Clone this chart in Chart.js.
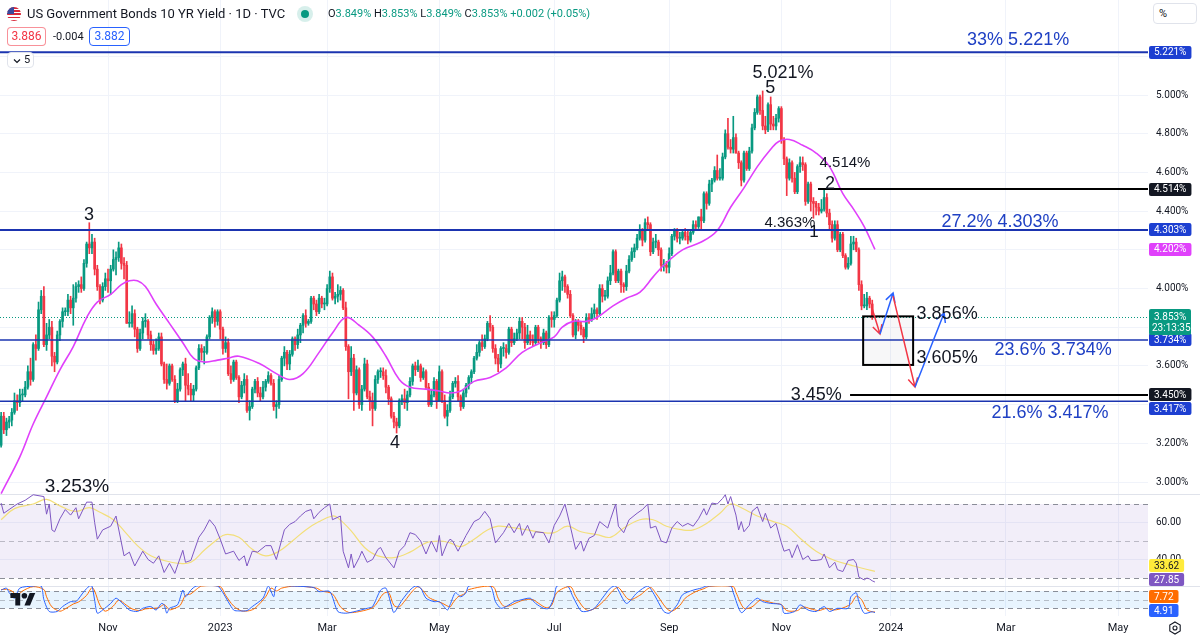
<!DOCTYPE html>
<html>
<head>
<meta charset="utf-8">
<script src="https://cdn.jsdelivr.net/npm/chart.js@4.4.1/dist/chart.umd.min.js"></script>
<style>
  body { margin: 0; background: #fff; }
  #wrap { position: relative; width: 1200px; height: 638px; overflow: hidden; font-family: Roboto, "Liberation Sans", Arial, sans-serif; color: #131722; }
  #chart { position: absolute; left: 0; top: 0; }
  .abs { position: absolute; white-space: nowrap; }
  .flag { left: 7px; top: 7px; width: 14px; height: 14px; border-radius: 50%; overflow: hidden;
          background: repeating-linear-gradient(180deg, #d8283a 0 1.6px, #fff 1.6px 3.2px); }
  .flag:before { content: ""; position: absolute; left: 0; top: 0; width: 7px; height: 7px; background: #3c4a9c; }
  .title { left: 27px; top: 6px; font-size: 13px; line-height: 16px; }
  .dot { left: 301px; top: 10px; width: 8px; height: 8px; border-radius: 50%; background: #089981; box-shadow: 0 0 0 4px rgba(8,153,129,0.16); }
  .ohlc { left: 328px; top: 7px; font-size: 11px; line-height: 14px; }
  .ohlc b { font-weight: normal; color: #089981; }
  .pill { box-sizing: border-box; height: 19px; border-radius: 4px; font-size: 12px; line-height: 17px; text-align: center; background: #fff; }
  .small { font-size: 11px; }
  .box { box-sizing: border-box; border: 1px solid #e0e3eb; border-radius: 4px; background: #fff; font-size: 11px; }
</style>
</head>
<body>
<div id="wrap">
  <canvas id="chart" width="1200" height="638"></canvas>

  <div class="abs flag"></div>
  <div class="abs title">US Government Bonds 10 YR Yield · 1D · TVC</div>
  <div class="abs dot"></div>
  <div class="abs ohlc" id="ohlc"></div>
  <div class="abs pill" style="left:7px;top:27px;width:39px;border:1px solid rgba(242,54,69,0.55);color:#f23645;">3.886</div>
  <div class="abs small" style="left:53px;top:30px;">-0.004</div>
  <div class="abs pill" style="left:89px;top:27px;width:41px;border:1px solid #2962ff;color:#2962ff;">3.882</div>
  <div class="abs box" style="left:7px;top:52px;width:27px;height:16px;">
    <svg class="abs" style="left:5px;top:5px" width="8" height="6" viewBox="0 0 8 6"><path d="M1 1.5l3 3 3-3" fill="none" stroke="#131722" stroke-width="1.2"/></svg>
    <span class="abs" style="left:16px;top:0px;line-height:14px;">5</span>
  </div>
  <div class="abs box" style="left:1153px;top:3px;width:44px;height:21px;"><span class="abs" style="left:5px;top:3px;">%</span></div>

  <svg class="abs" style="left:10px;top:593px" width="26" height="14" viewBox="0 0 36 20">
    <path d="M14 18H7V7H0V0h14v18zM28 18h-8l7.5-18h8L28 18z" fill="#131722"/><circle cx="20" cy="4" r="4" fill="#131722"/>
  </svg>
  <svg class="abs" style="left:1168px;top:621px" width="14" height="14" viewBox="0 0 14 14">
    <path d="M7 1l5.2 3v6L7 13 1.8 10V4z" fill="none" stroke="#131722" stroke-width="1.1"/>
    <circle cx="7" cy="7" r="2" fill="none" stroke="#131722" stroke-width="1.1"/>
  </svg>
</div>

<script>
// time axis: bar index of the first session of each month
const monthTicks = [42, 84, 124, 166, 209, 252, 294, 335, 378, 420];
const monthLabels = ["Nov", "2023", "Mar", "May", "Jul", "Sep", "Nov", "2024", "Mar", "May"];
const priceTicks = [3.0, 3.2, 3.4, 3.6, 3.8, 4.0, 4.2, 4.4, 4.6, 4.8, 5.0, 5.2];
const rsiTicks = [40, 60];
const rsiBands = [70, 50, 30];
const stochBands = [80, 50, 20];

// daily candles, 1 Sep 2022 .. 21 Dec 2023 (one row per month)
const opens = [
  3.13,3.26,3.19,3.34,3.27,3.31,3.32,3.36,3.42,3.41,3.45,3.45,3.49,3.57,3.53,3.71,3.69,3.89,3.96,3.71,3.76,
  3.80,3.65,3.62,3.76,3.83,3.88,3.88,3.94,3.90,3.95,4.01,4.02,4.00,4.13,4.23,4.21,4.24,4.10,4.01,3.94,4.01,
  4.05,4.04,4.10,4.15,4.16,4.21,4.13,4.12,3.82,3.82,3.87,3.79,3.69,3.77,3.83,3.83,3.76,3.71,3.68,3.69,3.75,
  3.61,3.53,3.51,3.60,3.53,3.42,3.48,3.58,3.61,3.50,3.48,3.45,3.48,3.59,3.69,3.67,3.67,3.75,3.85,3.88,3.83,
  3.88,3.79,3.69,3.72,3.56,3.53,3.62,3.54,3.44,3.50,3.53,3.37,3.39,3.48,3.52,3.46,3.44,3.49,3.52,3.55,
  3.51,3.39,3.40,3.53,3.64,3.67,3.61,3.66,3.74,3.71,3.76,3.81,3.86,3.82,3.83,3.95,3.92,3.88,3.95,3.92,
  3.92,4.00,4.06,3.95,3.96,3.97,3.99,3.90,3.70,3.57,3.64,3.46,3.58,3.40,3.48,3.61,3.44,3.42,3.38,3.53,3.57,3.57,3.55,
  3.49,3.43,3.34,3.31,3.29,3.42,3.43,3.41,3.45,3.52,3.60,3.58,3.60,3.54,3.57,3.49,3.40,3.45,3.52,
  3.42,3.57,3.42,3.34,3.37,3.44,3.51,3.52,3.44,3.39,3.46,3.50,3.54,3.57,3.64,3.67,3.72,3.70,3.74,3.82,3.80,3.69,
  3.64,3.61,3.69,3.69,3.67,3.79,3.72,3.74,3.77,3.83,3.80,3.72,3.76,3.73,3.72,3.80,3.74,3.72,3.77,3.71,3.85,
  3.84,3.86,3.94,4.04,4.06,4.01,3.97,3.86,3.76,3.83,3.81,3.79,3.75,3.85,3.84,3.87,3.89,3.87,4.00,3.96,
  3.96,4.04,4.08,4.19,4.04,4.09,4.02,4.01,4.09,4.15,4.19,4.21,4.26,4.30,4.25,4.34,4.33,4.19,4.24,4.24,4.20,4.12,4.12,
  4.11,4.18,4.27,4.30,4.26,4.26,4.29,4.27,4.25,4.29,4.33,4.32,4.37,4.35,4.49,4.44,4.54,4.56,4.61,4.57,
  4.57,4.68,4.80,4.73,4.72,4.78,4.70,4.65,4.56,4.70,4.62,4.71,4.83,4.91,4.99,4.92,4.84,4.82,4.95,4.85,4.84,4.88,
  4.93,4.77,4.67,4.57,4.65,4.57,4.50,4.63,4.65,4.64,4.45,4.54,4.45,4.44,4.42,4.40,4.41,4.47,4.39,4.33,4.26,
  4.33,4.20,4.28,4.17,4.11,4.13,4.23,4.24,4.20,4.02,3.91,3.91,3.95,3.92,3.849
];
const highs = [
  3.27,3.30,3.36,3.36,3.33,3.34,3.38,3.46,3.45,3.48,3.48,3.52,3.60,3.64,3.72,3.76,3.93,3.99,4.01,3.82,3.84,
  3.83,3.67,3.78,3.84,3.90,3.90,3.97,3.96,4.02,4.03,4.04,4.06,4.15,4.24,4.34,4.28,4.26,4.12,4.02,4.03,4.08,
  4.10,4.12,4.20,4.19,4.24,4.23,4.16,4.14,3.88,3.91,3.89,3.80,3.79,3.85,3.87,3.84,3.78,3.73,3.74,3.77,3.77,
  3.62,3.61,3.61,3.61,3.55,3.51,3.59,3.62,3.64,3.56,3.51,3.50,3.60,3.71,3.71,3.70,3.76,3.86,3.90,3.89,3.89,
  3.89,3.80,3.75,3.74,3.60,3.63,3.63,3.55,3.52,3.56,3.55,3.42,3.49,3.53,3.54,3.49,3.52,3.53,3.57,3.56,
  3.53,3.42,3.55,3.65,3.70,3.68,3.68,3.75,3.75,3.79,3.82,3.87,3.89,3.84,3.96,3.96,3.94,3.97,3.96,3.95,
  4.02,4.09,4.08,3.98,4.02,4.01,4.00,3.93,3.71,3.70,3.66,3.60,3.59,3.50,3.64,3.63,3.47,3.46,3.55,3.58,3.59,3.59,3.58,
  3.50,3.44,3.36,3.33,3.43,3.45,3.48,3.47,3.54,3.61,3.62,3.63,3.61,3.59,3.58,3.51,3.48,3.54,3.53,
  3.60,3.58,3.45,3.40,3.47,3.52,3.54,3.55,3.45,3.48,3.51,3.55,3.58,3.65,3.71,3.73,3.76,3.76,3.83,3.86,3.81,3.71,
  3.66,3.70,3.72,3.71,3.80,3.80,3.77,3.79,3.85,3.85,3.82,3.81,3.78,3.76,3.81,3.81,3.75,3.79,3.78,3.86,3.88,
  3.88,3.95,4.08,4.09,4.07,4.02,3.99,3.87,3.84,3.84,3.83,3.80,3.87,3.87,3.90,3.92,3.90,4.02,4.02,3.99,
  4.06,4.12,4.20,4.20,4.10,4.10,4.03,4.12,4.17,4.21,4.23,4.28,4.33,4.31,4.36,4.37,4.34,4.26,4.28,4.25,4.21,4.15,4.14,
  4.21,4.28,4.31,4.31,4.29,4.30,4.31,4.30,4.30,4.35,4.35,4.37,4.41,4.50,4.50,4.56,4.57,4.63,4.69,4.62,
  4.70,4.82,4.88,4.77,4.89,4.80,4.71,4.66,4.71,4.71,4.73,4.85,4.93,5.00,5.00,5.021,4.89,4.96,4.99,4.89,4.90,4.94,
  4.94,4.78,4.68,4.67,4.66,4.60,4.64,4.68,4.68,4.65,4.55,4.55,4.47,4.45,4.44,4.46,4.514,4.49,4.41,4.35,4.35,
  4.35,4.29,4.29,4.18,4.16,4.27,4.27,4.26,4.21,4.04,3.97,3.98,3.96,3.94,3.853
];
const lows = [
  3.12,3.17,3.18,3.25,3.24,3.28,3.29,3.35,3.37,3.39,3.42,3.44,3.48,3.50,3.52,3.63,3.68,3.87,3.70,3.68,3.74,
  3.60,3.57,3.61,3.73,3.80,3.86,3.86,3.87,3.81,3.93,3.98,3.98,3.99,4.11,4.18,4.18,4.07,3.99,3.92,3.93,3.99,
  3.98,3.97,4.09,4.07,4.14,4.10,4.05,3.82,3.80,3.80,3.75,3.67,3.68,3.74,3.80,3.74,3.68,3.66,3.66,3.68,3.60,
  3.51,3.48,3.50,3.52,3.41,3.41,3.47,3.55,3.42,3.45,3.42,3.42,3.47,3.58,3.63,3.61,3.66,3.74,3.82,3.80,3.81,
  3.74,3.66,3.67,3.55,3.51,3.52,3.53,3.41,3.43,3.46,3.36,3.32,3.38,3.46,3.44,3.42,3.43,3.47,3.51,3.50,
  3.37,3.33,3.38,3.52,3.60,3.58,3.58,3.65,3.68,3.69,3.72,3.77,3.80,3.81,3.82,3.89,3.86,3.87,3.90,3.89,
  3.91,3.98,3.94,3.92,3.93,3.94,3.89,3.68,3.43,3.55,3.37,3.45,3.38,3.37,3.47,3.43,3.37,3.29,3.37,3.51,3.54,3.53,3.46,
  3.40,3.33,3.28,3.253,3.28,3.40,3.38,3.37,3.44,3.50,3.55,3.57,3.52,3.53,3.48,3.39,3.39,3.44,3.38,
  3.42,3.41,3.33,3.29,3.36,3.43,3.49,3.42,3.37,3.38,3.44,3.48,3.51,3.56,3.63,3.65,3.68,3.69,3.73,3.78,3.67,3.61,
  3.57,3.59,3.65,3.64,3.66,3.70,3.71,3.73,3.74,3.74,3.69,3.71,3.71,3.70,3.71,3.72,3.69,3.71,3.69,3.70,3.80,
  3.80,3.85,3.93,3.99,3.98,3.95,3.85,3.75,3.74,3.78,3.76,3.72,3.74,3.82,3.83,3.85,3.84,3.86,3.93,3.94,
  3.95,4.02,4.07,4.03,4.03,3.98,3.98,3.99,4.08,4.14,4.16,4.20,4.25,4.22,4.24,4.30,4.17,4.18,4.21,4.17,4.09,4.09,4.08,
  4.08,4.17,4.25,4.24,4.23,4.25,4.25,4.23,4.24,4.28,4.30,4.31,4.30,4.34,4.41,4.43,4.50,4.55,4.56,4.56,
  4.56,4.67,4.72,4.70,4.70,4.70,4.62,4.53,4.55,4.61,4.61,4.70,4.82,4.90,4.90,4.82,4.80,4.81,4.82,4.82,4.82,4.86,
  4.75,4.64,4.48,4.56,4.55,4.49,4.49,4.60,4.61,4.43,4.44,4.40,4.363,4.38,4.38,4.39,4.40,4.37,4.30,4.24,4.25,
  4.19,4.19,4.16,4.10,4.10,4.12,4.20,4.19,3.99,3.89,3.90,3.89,3.90,3.84,3.849
];
const closes = [
  3.26,3.19,3.34,3.27,3.31,3.32,3.36,3.42,3.41,3.45,3.45,3.49,3.57,3.53,3.71,3.69,3.89,3.96,3.71,3.76,3.80,
  3.65,3.62,3.76,3.83,3.88,3.88,3.94,3.90,3.95,4.01,4.02,4.00,4.13,4.23,4.21,4.24,4.10,4.01,3.94,4.01,4.05,
  4.04,4.10,4.15,4.16,4.21,4.13,4.12,3.82,3.82,3.87,3.79,3.69,3.77,3.83,3.83,3.76,3.71,3.68,3.69,3.75,3.61,
  3.53,3.51,3.60,3.53,3.42,3.48,3.58,3.61,3.50,3.48,3.45,3.48,3.59,3.69,3.67,3.67,3.75,3.85,3.88,3.83,3.88,
  3.79,3.69,3.72,3.56,3.53,3.62,3.54,3.44,3.50,3.53,3.37,3.39,3.48,3.52,3.46,3.44,3.49,3.52,3.55,3.51,
  3.39,3.40,3.53,3.64,3.67,3.61,3.66,3.74,3.71,3.76,3.81,3.86,3.82,3.83,3.95,3.92,3.88,3.95,3.92,3.92,
  4.00,4.06,3.95,3.96,3.97,3.99,3.90,3.70,3.57,3.64,3.46,3.58,3.40,3.48,3.61,3.44,3.42,3.38,3.53,3.57,3.57,3.55,3.49,
  3.43,3.34,3.31,3.29,3.42,3.43,3.41,3.45,3.52,3.60,3.58,3.60,3.54,3.57,3.49,3.40,3.45,3.52,3.42,
  3.57,3.42,3.34,3.37,3.44,3.51,3.52,3.44,3.39,3.46,3.50,3.54,3.57,3.64,3.67,3.72,3.70,3.74,3.82,3.80,3.69,3.64,
  3.61,3.69,3.69,3.67,3.79,3.72,3.74,3.77,3.83,3.80,3.72,3.76,3.73,3.72,3.80,3.74,3.72,3.77,3.71,3.85,3.84,
  3.86,3.94,4.04,4.06,4.01,3.97,3.86,3.76,3.83,3.81,3.79,3.75,3.85,3.84,3.87,3.89,3.87,4.00,3.96,3.96,
  4.04,4.08,4.19,4.04,4.09,4.02,4.01,4.09,4.15,4.19,4.21,4.26,4.30,4.25,4.34,4.33,4.19,4.24,4.24,4.20,4.12,4.12,4.11,
  4.18,4.27,4.30,4.26,4.26,4.29,4.27,4.25,4.29,4.33,4.32,4.37,4.35,4.49,4.44,4.54,4.56,4.61,4.57,4.57,
  4.68,4.80,4.73,4.72,4.78,4.70,4.65,4.56,4.70,4.62,4.71,4.83,4.91,4.99,4.92,4.84,4.82,4.95,4.85,4.84,4.88,4.93,
  4.77,4.67,4.57,4.65,4.57,4.50,4.63,4.65,4.64,4.45,4.54,4.45,4.44,4.42,4.40,4.41,4.47,4.39,4.33,4.26,4.33,
  4.20,4.28,4.17,4.11,4.13,4.23,4.24,4.20,4.02,3.91,3.91,3.95,3.92,3.851,3.853
];

// moving average (magenta), read at bar indices
const maIdx = [2,9,14,19,24,29,34,38,43,47,50,53,56,60,65,70,74,78,83,87,91,99,105,110,115,121,126,131,136,141,146,151,155,161,166,170,174,179,185,191,197,204,209,212,216,221,225,231,236,241,246,250,257,264,270,275,280,285,290,293,297,302,307,312,317,321,325,329];
const maVals = [2.94,3.13,3.30,3.44,3.58,3.70,3.85,3.93,3.97,4.02,4.04,4.04,4.01,3.92,3.82,3.72,3.64,3.62,3.63,3.64,3.65,3.61,3.56,3.53,3.56,3.67,3.77,3.85,3.81,3.75,3.65,3.53,3.49,3.48,3.47,3.46,3.47,3.52,3.54,3.59,3.67,3.72,3.75,3.80,3.83,3.83,3.85,3.91,3.95,3.98,4.06,4.12,4.20,4.24,4.30,4.42,4.52,4.63,4.72,4.76,4.77,4.74,4.70,4.63,4.49,4.41,4.32,4.202];

// RSI and its moving average
const rsiIdx = [2,3,5,8,11,14,18,19,20,21,22,24,26,28,30,31,34,36,37,38,40,43,45,48,50,52,55,57,59,61,63,65,67,70,71,73,76,78,80,82,84,86,89,91,93,94,96,98,101,103,105,108,110,112,114,116,118,119,121,123,125,126,129,130,132,133,134,136,137,139,141,143,144,146,149,151,153,155,157,159,161,163,165,166,167,169,170,171,173,176,179,181,183,185,187,190,192,194,196,197,199,201,202,205,207,209,211,213,215,217,219,220,222,224,226,229,230,232,233,235,237,240,242,244,245,247,249,251,253,255,257,259,261,263,265,266,268,270,272,273,274,275,277,278,279,280,282,283,285,287,288,290,292,294,295,297,298,300,302,304,305,307,309,310,312,314,315,317,319,321,322,323,325,326,327,328,329];
const rsiVals = [70.5,65,67,70,72,75,74,64.5,70,56,55,62,67,64,68,62,71,71,60,51,56,58,63.5,42,44,36.5,44.5,40,38,42,33,38,32.5,45,38.5,39.5,52,56,61.5,58,51,43,44.5,39.5,42,36.5,44.5,44,47.5,47.5,40,56,59,60.5,63.5,66,67,62,65.5,68,70,61.5,63.5,44.5,35.5,43,35.5,41,44.5,38.5,40,45.5,46.5,41,35.5,44.5,47.5,54.5,53.5,50,43,50,44,53,42,49,51,50,44.5,53,60.5,62,66,62,49,54.5,59.5,54.5,59.5,53,58.5,51.5,55,54.5,49,58.5,63.5,70,58,45.5,50,44.5,51.5,53,60.5,57,61.5,70,58,54.5,61.5,65,67,70,57,58,50,49,57,60.5,58,59.5,58,62,67.5,64,70.5,70,73,75,70,74,64,56,60.5,55,58.5,66,68.5,60.5,65,57,59.5,49,44.5,45.5,41,48,40,42,39.5,39.5,40,43,35.5,38.5,34.5,33.5,39.5,40,38,30.5,29,30,29.5,28.5,27.85];
const rsiMaIdx = [2,7,14,19,24,30,35,39,44,48,53,58,63,68,73,78,83,86,91,96,101,106,111,116,121,126,128,133,138,143,149,155,161,166,170,174,179,184,188,192,199,205,209,214,219,225,230,235,241,246,251,257,261,266,271,275,279,285,291,296,301,307,314,320,325,329];
const rsiMaVals = [61.5,67.5,70,72.5,69,66,68,65.5,61.5,55.5,47.5,42,39.5,38,38.5,45,51,53.5,52,45.5,42,44.5,50,56,60.5,63.5,62.5,55.5,46.5,42,41,44,49,50,49,47,51,56,58,57.5,56,54.5,54.5,58,55,53.5,52,57,61.5,61.5,58,56,56,59.5,65,70,68,63.5,60.5,58,51.5,44.5,39.5,37,35,33.62];

// stochastic %K (blue) and %D (orange)
const kIdx = [2,4,5,7,9,14,17,18,20,23,25,28,30,33,35,36,37,38,40,43,45,48,50,53,55,58,60,62,63,64,65,68,70,71,73,75,83,85,89,91,94,96,100,102,104,105,111,119,121,125,128,131,134,139,141,144,146,148,149,152,155,157,159,161,164,166,169,170,172,174,176,177,185,187,189,191,194,196,200,202,205,207,209,210,214,216,219,221,224,227,230,232,236,240,244,246,250,252,255,257,261,264,266,275,276,279,282,285,287,290,294,295,299,301,304,307,310,312,315,319,320,322,323,325,328,329];
const kVals = [83,90,74,55,90,97,97,50,9,9,26,43,43,78,97,97,48,3,14,37,55,32,14,9,20,26,14,37,32,3,20,32,83,60,83,97,97,74,14,11,12,26,55,97,60,97,97,92,78,78,9,3,8,20,26,83,90,32,5,48,83,97,90,55,43,43,14,32,74,60,74,97,97,43,20,26,43,48,55,37,20,20,60,97,97,60,11,9,20,55,90,97,37,74,97,74,9,3,32,67,83,90,97,97,74,5,32,55,43,37,32,3,9,32,14,9,26,9,20,20,60,74,43,3,8,4.91];
const dIdx = [2,4,6,8,10,14,18,19,21,24,26,29,31,34,36,37,39,41,44,46,49,51,54,56,59,61,63,65,67,69,71,73,75,77,84,86,89,92,95,97,101,103,105,107,112,120,122,126,129,132,135,140,142,145,147,149,151,153,156,158,160,162,165,167,170,171,173,175,177,186,188,190,192,195,198,201,203,206,208,210,215,217,220,222,225,228,231,233,237,241,245,247,251,253,256,258,262,265,267,276,277,280,283,286,288,291,294,296,300,302,305,308,311,313,316,320,322,324,326,328,329];
const dVals = [85,86,80,65,80,95,85,60,25,10,18,35,42,65,92,80,30,10,28,48,30,18,12,18,20,22,33,15,20,30,65,70,85,97,95,65,28,11,12,20,60,90,80,90,97,90,80,70,25,6,7,18,30,70,75,30,25,45,80,95,80,58,45,38,25,38,60,68,85,95,55,28,28,40,50,50,38,22,30,75,95,62,22,12,25,50,82,92,50,65,92,72,20,10,30,55,78,88,96,95,75,20,25,48,45,38,33,12,12,25,18,12,20,14,18,35,62,50,15,8,7.72];

// drawn levels
const fibLevels = [5.221, 4.303, 3.734, 3.417];
const fibRatios = ["33%", "27.2%", "23.6%", "21.6%"];
const targetLevels = [4.514, 3.45];
const zoneTop = 3.856, zoneBottom = 3.605;

// ---- drawing layout (bar index / price anchors for the hand-drawn tools) ----
const fibTextAt = [[382.6, 5.284], [375.8, 4.344], [395.7, 3.682], [394.5, 3.357]];
const targetFrom = [307.7, 319.7];
const zoneSpan = [324.6, 343.3];
const notes = [
  { t: "5.021%", i: 294.6, p: 5.114, size: 18 },
  { t: "5", i: 289.8, p: 5.036, size: 18 },
  { t: "4.514%", i: 317.8, p: 4.649, size: 15 },
  { t: "2", i: 312.2, p: 4.54, size: 18 },
  { t: "4.363%", i: 297.2, p: 4.339, size: 15 },
  { t: "1", i: 306.2, p: 4.292, size: 17 },
  { t: "3", i: 34.9, p: 4.38, size: 18 },
  { t: "4", i: 149.4, p: 3.202, size: 18 },
  { t: "3.253%", i: 30.4, p: 2.974, size: 19 },
  { t: "3.856%", i: 344.6, p: 3.868, size: 18, align: "left" },
  { t: "3.605%", i: 344.6, p: 3.639, size: 18, align: "left" },
  { t: "3.45%", i: 316.6, p: 3.452, size: 18, align: "right" }
];
const arrows = [
  { from: [327.9, 3.899], to: [330.9, 3.765], color: "#f23645" },
  { from: [330.9, 3.765], to: [335.8, 3.977], color: "#2962ff" },
  { from: [335.8, 3.961], to: [344.0, 3.491], color: "#f23645" },
  { from: [344.0, 3.491], to: [354.9, 3.873], color: "#2962ff" }
];

const UP = "#089981", DOWN = "#f23645";
const FIB_LINE = "#1b34b0", FIB_TEXT = "#1f40c4", FIB_BOX = "#1d3fd1";
const MA_COLOR = "#e040fb";
const TEXT_FONT = '"Liberation Sans", Arial, sans-serif';
const AXIS_FONT = 'Roboto, "Liberation Sans", Arial, sans-serif';

const last = closes.length - 1;
const chg = closes[last] - closes[last - 1];
document.getElementById("ohlc").innerHTML =
  "O<b>" + opens[last].toFixed(3) + "%</b> H<b>" + highs[last].toFixed(3) + "%</b> L<b>" +
  lows[last].toFixed(3) + "%</b> C<b>" + closes[last].toFixed(3) + "%</b> <b>" +
  (chg >= 0 ? "+" : "") + chg.toFixed(3) + " (" + (chg >= 0 ? "+" : "") + (chg / closes[last - 1] * 100).toFixed(2) + "%)</b>";

const candleColors = closes.map((c, i) => c >= opens[i] ? UP : DOWN);
const pts = (idx, vals) => idx.map((x, k) => ({ x: x, y: vals[k] }));

// clip every dataset to its own pane
const paneClip = {
  id: "paneClip",
  beforeDatasetDraw(chart, args) {
    const s = chart.scales[args.meta.yAxisID], a = chart.chartArea, ctx = chart.ctx;
    ctx.save();
    ctx.beginPath();
    ctx.rect(a.left, s.top, a.right - a.left, s.bottom - s.top);
    ctx.clip();
  },
  afterDatasetDraw(chart) { chart.ctx.restore(); }
};

function hline(ctx, x1, x2, y) {
  ctx.beginPath(); ctx.moveTo(x1, y); ctx.lineTo(x2, y); ctx.stroke();
}

// oscillator bands, pane separators, last price line
const paneDecor = {
  id: "paneDecor",
  beforeDatasetsDraw(chart) {
    const { ctx, chartArea: a, scales } = chart;
    const band = (s, levels, fill) => {
      const y1 = s.getPixelForValue(levels[0]), y2 = s.getPixelForValue(levels[2]);
      ctx.fillStyle = fill;
      ctx.fillRect(a.left, y1, a.right - a.left, y2 - y1);
      ctx.lineWidth = 1;
      ctx.setLineDash([5, 4]);
      levels.forEach((v, k) => {
        ctx.strokeStyle = k === 1 ? "rgba(120,123,134,0.45)" : "rgba(120,123,134,0.85)";
        hline(ctx, a.left, a.right, Math.round(s.getPixelForValue(v)) + 0.5);
      });
      ctx.setLineDash([]);
    };
    ctx.save();
    band(scales.yRsi, rsiBands, "rgba(126,87,194,0.10)");
    band(scales.yStoch, stochBands, "rgba(33,150,243,0.10)");
    ctx.strokeStyle = "#e0e3eb";
    ctx.lineWidth = 1;
    hline(ctx, 0, chart.width, Math.round(scales.yRsi.top) + 0.5);
    hline(ctx, 0, chart.width, Math.round(scales.yStoch.top) + 0.5);
    ctx.strokeStyle = UP;
    ctx.setLineDash([1, 2]);
    hline(ctx, a.left, a.right, Math.round(scales.y.getPixelForValue(closes[last])) + 0.5);
    ctx.restore();
  }
};

function arrowLine(ctx, x1, y1, x2, y2) {
  const ang = Math.atan2(y2 - y1, x2 - x1), L = 10, w = 0.5;
  ctx.beginPath();
  ctx.moveTo(x1, y1); ctx.lineTo(x2, y2);
  ctx.moveTo(x2 - L * Math.cos(ang - w), y2 - L * Math.sin(ang - w));
  ctx.lineTo(x2, y2);
  ctx.lineTo(x2 - L * Math.cos(ang + w), y2 - L * Math.sin(ang + w));
  ctx.stroke();
}

// hand-drawn tools of the idea: fib levels, targets, zone, arrows, wave labels
const drawings = {
  id: "drawings",
  afterDatasetsDraw(chart) {
    const { ctx, chartArea: a, scales } = chart;
    const X = i => scales.x.getPixelForValue(i);
    const Y = p => scales.y.getPixelForValue(p);
    ctx.save();
    fibLevels.forEach((lv, k) => {
      ctx.strokeStyle = FIB_LINE;
      ctx.lineWidth = k < 2 ? 2 : 1.5;
      hline(ctx, a.left, a.right, Y(lv));
      ctx.fillStyle = FIB_TEXT;
      ctx.font = "18px " + TEXT_FONT;
      ctx.textAlign = "center"; ctx.textBaseline = "middle";
      ctx.fillText(fibRatios[k] + " " + lv.toFixed(3) + "%", X(fibTextAt[k][0]), Y(fibTextAt[k][1]));
    });
    ctx.strokeStyle = "#000"; ctx.lineWidth = 2;
    targetLevels.forEach((lv, k) => hline(ctx, X(targetFrom[k]), a.right, Y(lv)));

    const zx1 = X(zoneSpan[0]), zx2 = X(zoneSpan[1]), zy1 = Y(zoneTop), zy2 = Y(zoneBottom);
    ctx.fillStyle = "rgba(120,123,134,0.06)";
    ctx.fillRect(zx1, zy1, zx2 - zx1, zy2 - zy1);
    ctx.strokeRect(zx1, zy1, zx2 - zx1, zy2 - zy1);

    ctx.lineWidth = 1.5;
    arrows.forEach(ar => {
      ctx.strokeStyle = ar.color;
      arrowLine(ctx, X(ar.from[0]), Y(ar.from[1]), X(ar.to[0]), Y(ar.to[1]));
    });

    ctx.fillStyle = "#131722"; ctx.textBaseline = "middle";
    notes.forEach(n => {
      ctx.font = n.size + "px " + TEXT_FONT;
      ctx.textAlign = n.align || "center";
      ctx.fillText(n.t, X(n.i), Y(n.p));
    });
    ctx.restore();
  }
};

// coloured value tags on the right scale
function spread(items, bottom) {
  const h = 13;
  items.sort((p, q) => p.y - q.y);
  for (let k = 1; k < items.length; k++) {
    if (items[k].y < items[k - 1].y + h + 1) items[k].y = items[k - 1].y + h + 1;
  }
  if (bottom !== undefined && items.length) {
    const over = items[items.length - 1].y + h / 2 - bottom;
    if (over > 0) items.forEach(it => { it.y -= over; });
  }
  return items;
}

const axisTags = {
  id: "axisTags",
  afterDraw(chart) {
    const { ctx, scales } = chart;
    const x0 = scales.y.left + 1;
    const tag = (it) => {
      ctx.font = "10px " + AXIS_FONT;
      const w = ctx.measureText(it.text).width + 10;
      ctx.fillStyle = it.bg;
      ctx.beginPath(); ctx.roundRect(x0, Math.round(it.y - 6.5), w, 13, 2); ctx.fill();
      ctx.fillStyle = it.fg || "#fff";
      ctx.textAlign = "left"; ctx.textBaseline = "middle";
      ctx.fillText(it.text, x0 + 5, it.y + 0.5);
    };
    const Y = p => scales.y.getPixelForValue(p);
    const pct = v => v.toFixed(3) + "%";
    const priceTags = [
      ...fibLevels.map(v => ({ y: Y(v), text: pct(v), bg: FIB_BOX })),
      ...targetLevels.map(v => ({ y: Y(v), text: pct(v), bg: "#131722" })),
      { y: Y(maVals[maVals.length - 1]), text: pct(maVals[maVals.length - 1]), bg: MA_COLOR }
    ];
    ctx.save();
    spread(priceTags).forEach(tag);

    // last price with countdown
    const yl = Y(closes[last]);
    ctx.font = "10px " + AXIS_FONT;
    ctx.fillStyle = UP;
    ctx.beginPath(); ctx.roundRect(x0, Math.round(yl - 8), 42, 26, 2); ctx.fill();
    ctx.fillStyle = "#fff"; ctx.textAlign = "left"; ctx.textBaseline = "middle";
    ctx.fillText(pct(closes[last]), x0 + 5, yl + 0.5);
    ctx.fillText("23:13:35", x0 + 3, yl + 12);

    const R = scales.yRsi, S = scales.yStoch;
    spread([
      { y: R.getPixelForValue(rsiMaVals[rsiMaVals.length - 1]), text: rsiMaVals[rsiMaVals.length - 1].toFixed(2), bg: "#ffeb3b", fg: "#131722" },
      { y: R.getPixelForValue(rsiVals[rsiVals.length - 1]), text: rsiVals[rsiVals.length - 1].toFixed(2), bg: "#7e57c2" }
    ], R.bottom).forEach(tag);
    spread([
      { y: S.getPixelForValue(dVals[dVals.length - 1]), text: dVals[dVals.length - 1].toFixed(2), bg: "#ff6d00" },
      { y: S.getPixelForValue(kVals[kVals.length - 1]), text: kVals[kVals.length - 1].toFixed(2), bg: "#2962ff" }
    ], S.bottom + 1).forEach(tag);
    ctx.restore();
  }
};

const tagged = [...fibLevels, ...targetLevels, closes[last], maVals[maVals.length - 1]];

function paneAxis(extra) {
  return Object.assign({
    type: "linear",
    position: "right",
    stack: "panes",
    border: { display: false },
    grid: { color: "#f0f3fa", drawTicks: false },
    ticks: { padding: 8, color: "#131722", font: { size: 10, family: AXIS_FONT } },
    afterFit: s => { s.width = 52; s.paddingTop = 0; s.paddingBottom = 0; }
  }, extra);
}

new Chart(document.getElementById("chart"), {
  type: "bar",
  data: {
    datasets: [
      { type: "line", label: "MA", data: pts(maIdx, maVals), yAxisID: "y", borderColor: MA_COLOR, borderWidth: 1.6, pointRadius: 0, tension: 0.4, order: 0 },
      { label: "bodies", data: closes.map((c, i) => ({ x: i, y: [opens[i], c] })), yAxisID: "y", backgroundColor: candleColors, barThickness: 2, minBarLength: 1, grouped: false, order: 1 },
      { label: "wicks", data: closes.map((c, i) => ({ x: i, y: [lows[i], highs[i]] })), yAxisID: "y", backgroundColor: candleColors, barThickness: 1, grouped: false, order: 2 },
      { type: "line", label: "RSI", data: pts(rsiIdx, rsiVals), yAxisID: "yRsi", borderColor: "#7e57c2", borderWidth: 1, pointRadius: 0, tension: 0, order: 3 },
      { type: "line", label: "RSI MA", data: pts(rsiMaIdx, rsiMaVals), yAxisID: "yRsi", borderColor: "#f3df7a", borderWidth: 1.2, pointRadius: 0, tension: 0.4, order: 4 },
      { type: "line", label: "%K", data: pts(kIdx, kVals), yAxisID: "yStoch", borderColor: "#2962ff", borderWidth: 1, pointRadius: 0, tension: 0.25, order: 5 },
      { type: "line", label: "%D", data: pts(dIdx, dVals), yAxisID: "yStoch", borderColor: "#ff6d00", borderWidth: 1, pointRadius: 0, tension: 0.3, order: 6 }
    ]
  },
  options: {
    responsive: false,
    animation: false,
    events: [],
    layout: { padding: 0, autoPadding: false },
    plugins: { legend: { display: false }, tooltip: { enabled: false } },
    scales: {
      x: {
        type: "linear", min: 1.58, max: 431.2, offset: false,
        border: { display: false },
        grid: { color: "#f0f3fa", drawTicks: false, offset: false },
        ticks: {
          autoSkip: false, maxRotation: 0, padding: 6, color: "#131722", font: { size: 11, family: AXIS_FONT },
          callback: v => monthLabels[monthTicks.indexOf(v)] || ""
        },
        afterBuildTicks: s => { s.ticks = monthTicks.map(v => ({ value: v })); },
        afterFit: s => { s.height = 22; s.paddingLeft = 0; s.paddingRight = 0; }
      },
      y: paneAxis({
        stackWeight: 494, min: 2.938, max: 5.491, beginAtZero: false,
        afterBuildTicks: s => { s.ticks = priceTicks.map(v => ({ value: v })); },
        ticks: {
          padding: 8, color: "#131722", font: { size: 10, family: AXIS_FONT },
          callback: v => tagged.some(t => Math.abs(t - v) < 0.06) ? "" : v.toFixed(3) + "%"
        }
      }),
      yRsi: paneAxis({
        stackWeight: 92, min: 25.7, max: 75.4, beginAtZero: false,
        afterBuildTicks: s => { s.ticks = rsiTicks.map(v => ({ value: v })); },
        ticks: { padding: 8, color: "#131722", font: { size: 10, family: AXIS_FONT }, callback: v => v.toFixed(2) }
      }),
      yStoch: paneAxis({
        stackWeight: 30, min: -6.7, max: 97.3, beginAtZero: false,
        grid: { display: false },
        ticks: { display: false }
      })
    }
  },
  plugins: [paneClip, paneDecor, drawings, axisTags]
});
</script>
</body>
</html>
